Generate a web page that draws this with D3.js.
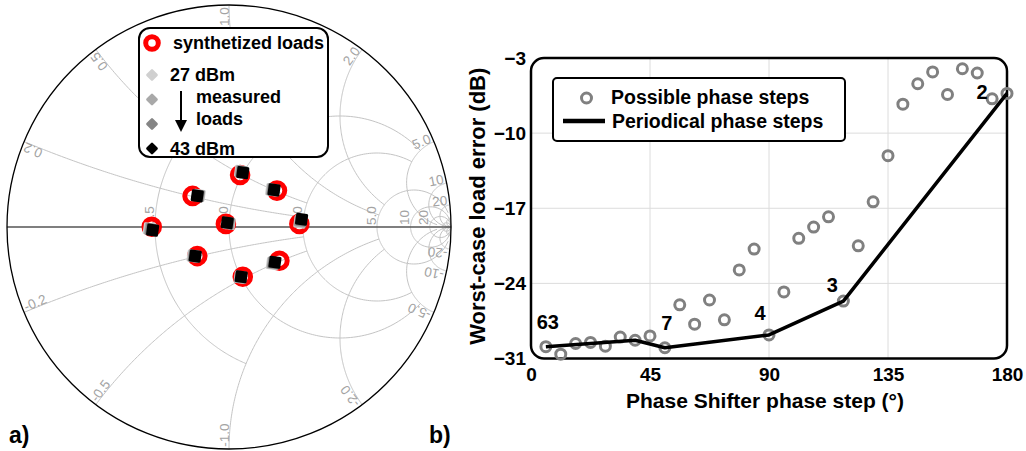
<!DOCTYPE html>
<html>
<head>
<meta charset="utf-8">
<script src="https://cdn.jsdelivr.net/npm/d3@7"></script>
<style>
  body { margin: 0; background: #fff; }
  svg { display: block; font-family: "Liberation Sans", Arial, sans-serif; }
</style>
</head>
<body>
<svg id="chart" width="1026" height="451"></svg>
<script>
// ---------- a) Smith chart data ----------
const resValues  = [0.5, 1, 2, 5, 10, 20, 50];
const resLimits  = [1, 5, 5, 30, 1e6, 1e6, 1e6];     // reactance where each circle stops
const resLabels  = ["0.5", "1.0", "2.0", "5.0", "10", "20", ""];
const reacValues = [0.2, 0.5, 1, 2, 5, 10, 20, 50];
const reacLimits = [2, 2, 5, 5, 30, 1e6, 1e6, 1e6];  // resistance where each arc stops
const reacLabels = ["0.2", "0.5", "1.0", "2.0", "5.0", "10", "20", ""];

// reflection coefficients (re, im)
const synthRe = [0.050, -0.164, 0.216, -0.348, -0.014, 0.317, -0.143, 0.227, 0.062];
const synthIm = [0.234, 0.140, 0.164, 0.001, 0.014, 0.014, -0.131, -0.152, -0.224];
const meas27Re = [0.052, -0.134, 0.192, -0.359, 0.001, 0.319, -0.162, 0.195, 0.050];
const meas27Im = [0.251, 0.143, 0.167, -0.008, 0.016, 0.022, -0.131, -0.165, -0.227];
const meas32Re = [0.055, -0.137, 0.196, -0.354, -0.002, 0.322, -0.158, 0.199, 0.052];
const meas32Im = [0.249, 0.142, 0.167, -0.010, 0.017, 0.026, -0.131, -0.163, -0.226];
const meas37Re = [0.059, -0.140, 0.200, -0.349, -0.005, 0.325, -0.155, 0.203, 0.054];
const meas37Im = [0.247, 0.141, 0.167, -0.012, 0.018, 0.031, -0.131, -0.161, -0.225];
const meas43Re = [0.062, -0.143, 0.203, -0.344, -0.008, 0.327, -0.152, 0.207, 0.055];
const meas43Im = [0.245, 0.140, 0.167, -0.014, 0.019, 0.035, -0.131, -0.159, -0.224];
const measColors = ["#d0d0d0", "#a9a9a9", "#858585", "#000000"];

// ---------- b) phase step data ----------
const phaseSteps = [5.625, 11.25, 16.875, 22.5, 28.125, 33.75, 39.375, 45, 50.625, 56.25,
  61.875, 67.5, 73.125, 78.75, 84.375, 90, 95.625, 101.25, 106.875, 112.5, 118.125, 123.75,
  129.375, 135, 140.625, 146.25, 151.875, 157.5, 163.125, 168.75, 174.375, 180];
const loadError = [-29.9, -30.6, -29.6, -29.5, -29.85, -29.0, -29.3, -28.9, -30.0, -26.0,
  -27.8, -25.55, -27.4, -22.75, -20.8, -28.8, -24.8, -19.8, -18.75, -17.8, -25.65, -20.5,
  -16.4, -12.1, -7.3, -5.4, -4.3, -6.4, -4.0, -4.4, -6.8, -6.3];
const periodicSteps = [5.625, 39.375, 50.625, 90, 118.125, 180];
const periodicError = [-29.9, -29.3, -30.0, -28.8, -25.65, -6.3];
const periodicNames = ["63", "", "7", "4", "3", "2"];
const xTicks = [0, 45, 90, 135, 180];
const yTicks = [-3, -10, -17, -24, -31];

const svg = d3.select("#chart");

// ================= a) Smith chart =================
const cx = 229, cy = 227, R = 222;
const sx = d3.scaleLinear().domain([-1, 1]).range([cx - R, cx + R]);
const sy = d3.scaleLinear().domain([-1, 1]).range([cy + R, cy - R]);

// z = r + jx  ->  gamma
function gamma(r, x) {
  const d = (r + 1) * (r + 1) + x * x;
  return [(r * r + x * x - 1) / d, (2 * x) / d];
}
const smithLine = d3.line().x(d => sx(d[0])).y(d => sy(d[1]));

const smith = svg.append("g");
const grid = smith.append("g")
  .attr("fill", "none")
  .attr("stroke", "#c4c4c4")
  .attr("stroke-width", 1);

resValues.forEach((r, i) => {
  const tMax = Math.atan(resLimits[i]);
  const pts = d3.range(-tMax, tMax + 1e-9, tMax / 150).map(t => gamma(r, Math.tan(t)));
  grid.append("path").attr("d", smithLine(pts));
});

reacValues.forEach((x, i) => {
  const tMax = Math.atan(reacLimits[i]);
  [1, -1].forEach(s => {
    const pts = d3.range(0, tMax + 1e-9, tMax / 150).map(t => gamma(Math.tan(t), s * x));
    grid.append("path").attr("d", smithLine(pts));
  });
});

// horizontal axis + outer circle
smith.append("line")
  .attr("x1", sx(-1)).attr("x2", sx(1))
  .attr("y1", sy(0)).attr("y2", sy(0))
  .attr("stroke", "#555").attr("stroke-width", 1.5);
smith.append("circle")
  .attr("cx", sx(0)).attr("cy", sy(0)).attr("r", sx(1) - sx(0))
  .attr("fill", "none").attr("stroke", "#000").attr("stroke-width", 1.3);

// grid labels
const gl = smith.append("g")
  .attr("fill", "#a3a3a3")
  .attr("font-size", 13.5);

resValues.forEach((r, i) => {
  if (!resLabels[i]) return;
  const g = gamma(r, 0);
  gl.append("text")
    .attr("transform", `translate(${sx(g[0]) - 1.5},${sy(0) - 2}) rotate(-90)`)
    .attr("text-anchor", "start")
    .text(resLabels[i]);
});

reacValues.forEach((x, i) => {
  if (!reacLabels[i]) return;
  [1, -1].forEach(s => {
    const g = gamma(0, s * x);
    const th = Math.atan2(g[1], g[0]);
    const px = sx(0.99 * g[0]), py = sy(0.99 * g[1]);
    const rot = s > 0 ? -th * 180 / Math.PI
                      : Math.atan2(Math.sin(th), -Math.cos(th)) * 180 / Math.PI;
    gl.append("text")
      .attr("transform", `translate(${px},${py}) rotate(${rot})`)
      .attr("text-anchor", s > 0 ? "end" : "start")
      .text((s > 0 ? "" : "-") + reacLabels[i]);
  });
});

// markers
const blob = d3.symbol().type(d3.symbolSquare).size(81);
smith.append("g").selectAll("circle")
  .data(synthRe)
  .join("circle")
  .attr("cx", d => sx(d))
  .attr("cy", (d, i) => sy(synthIm[i]))
  .attr("r", 7.8)
  .attr("fill", "none")
  .attr("stroke", "#ff0000")
  .attr("stroke-width", 5);

[[meas27Re, meas27Im], [meas32Re, meas32Im], [meas37Re, meas37Im], [meas43Re, meas43Im]]
  .forEach(([re, im], k) => {
    smith.append("g").selectAll("path")
      .data(re)
      .join("path")
      .attr("d", blob)
      .attr("transform", (d, i) => `translate(${sx(d)},${sy(im[i])}) rotate(8)`)
      .attr("fill", measColors[k])
      .attr("stroke", measColors[k])
      .attr("stroke-width", 3)
      .attr("stroke-linejoin", "round");
  });

// legend of a)
const lg = smith.append("g").attr("font-weight", "bold").attr("font-size", 18);
lg.append("rect")
  .attr("x", 139).attr("y", 28).attr("width", 189).attr("height", 129)
  .attr("rx", 11)
  .attr("fill", "#fff").attr("stroke", "#000").attr("stroke-width", 2);
lg.append("circle")
  .attr("cx", 152).attr("cy", 43).attr("r", 6.3)
  .attr("fill", "#fff").attr("stroke", "#ff0000").attr("stroke-width", 5);
lg.append("text").attr("x", 173).attr("y", 49).text("synthetized loads");
[75, 99.5, 124, 148.5].forEach((y, k) => {
  lg.append("path")
    .attr("d", d3.symbol().type(d3.symbolSquare).size(42))
    .attr("transform", `translate(152,${y}) rotate(45)`)
    .attr("fill", measColors[k]).attr("stroke", measColors[k])
    .attr("stroke-width", 2.5).attr("stroke-linejoin", "round");
});
lg.append("text").attr("x", 170).attr("y", 81).text("27 dBm");
lg.append("text").attr("x", 196).attr("y", 103).text("measured");
lg.append("text").attr("x", 196).attr("y", 125).text("loads");
lg.append("text").attr("x", 170).attr("y", 155).text("43 dBm");
lg.append("line")
  .attr("x1", 181).attr("x2", 181).attr("y1", 91).attr("y2", 122)
  .attr("stroke", "#000").attr("stroke-width", 2);
lg.append("path")
  .attr("d", "M175,120 L187,120 L181,132 Z")
  .attr("fill", "#000");

svg.append("text").attr("x", 9).attr("y", 443)
  .attr("font-weight", "bold").attr("font-size", 23).text("a)");
svg.append("text").attr("x", 429).attr("y", 443)
  .attr("font-weight", "bold").attr("font-size", 23).text("b)");

// ================= b) load error vs phase step =================
const x = d3.scaleLinear().domain([0, 180]).range([531, 1007]);
const y = d3.scaleLinear().domain([-31, -3]).range([358.5, 58]);

const plot = svg.append("g");

plot.append("g")
  .attr("stroke", "#dcdcdc").attr("stroke-width", 1)
  .call(g => {
    g.selectAll("line.v").data(xTicks.slice(1, -1)).join("line")
      .attr("x1", d => x(d)).attr("x2", d => x(d))
      .attr("y1", y(-3)).attr("y2", y(-31));
    g.selectAll("line.h").data(yTicks.slice(1, -1)).join("line")
      .attr("class", "h")
      .attr("x1", x(0)).attr("x2", x(180))
      .attr("y1", d => y(d)).attr("y2", d => y(d));
  });

plot.append("rect")
  .attr("x", x(0)).attr("y", y(-3))
  .attr("width", x(180) - x(0)).attr("height", y(-31) - y(-3))
  .attr("rx", 13)
  .attr("fill", "none").attr("stroke", "#000").attr("stroke-width", 2.5);

// axes
const xAxis = plot.append("g")
  .attr("transform", `translate(0,${y(-31)})`)
  .call(d3.axisBottom(x).tickValues(xTicks).tickSize(0).tickPadding(9));
const yAxis = plot.append("g")
  .attr("transform", `translate(${x(0)},0)`)
  .call(d3.axisLeft(y).tickValues(yTicks).tickSize(0).tickPadding(5));
[xAxis, yAxis].forEach(a => {
  a.select(".domain").remove();
  a.selectAll("text")
    .attr("font-family", "Liberation Sans, Arial, sans-serif")
    .attr("font-size", 19)
    .attr("font-weight", "bold")
    .attr("fill", "#000");
});

plot.append("text")
  .attr("x", (x(0) + x(180)) / 2 - 4).attr("y", 408)
  .attr("text-anchor", "middle")
  .attr("font-weight", "bold").attr("font-size", 21)
  .text("Phase Shifter phase step (°)");
plot.append("text")
  .attr("transform", `translate(485,${(y(-3) + y(-31)) / 2 - 2}) rotate(-90)`)
  .attr("text-anchor", "middle")
  .attr("font-weight", "bold").attr("font-size", 22)
  .text("Worst-case load error (dB)");

// possible steps
plot.append("g").selectAll("circle")
  .data(phaseSteps)
  .join("circle")
  .attr("cx", d => x(d))
  .attr("cy", (d, i) => y(loadError[i]))
  .attr("r", 5)
  .attr("fill", "none")
  .attr("stroke", "#808080")
  .attr("stroke-width", 3);

// periodical steps
const line = d3.line().x((d, i) => x(d)).y((d, i) => y(periodicError[i]));
plot.append("path")
  .datum(periodicSteps)
  .attr("d", line)
  .attr("fill", "none")
  .attr("stroke", "#000")
  .attr("stroke-width", 3.5)
  .attr("stroke-linejoin", "round");

const nameOffsets = [[2, -18], [0, 0], [2, -18], [-9, -15], [-11, -9], [-25, 6]];
plot.append("g").selectAll("text")
  .data(periodicSteps)
  .join("text")
  .attr("x", (d, i) => x(d) + nameOffsets[i][0])
  .attr("y", (d, i) => y(periodicError[i]) + nameOffsets[i][1])
  .attr("text-anchor", "middle")
  .attr("font-weight", "bold").attr("font-size", 20)
  .text((d, i) => periodicNames[i]);

// legend of b)
const lg2 = plot.append("g").attr("font-weight", "bold").attr("font-size", 19.5);
lg2.append("rect")
  .attr("x", 553).attr("y", 78).attr("width", 292).attr("height", 63)
  .attr("rx", 4)
  .attr("fill", "#fff").attr("stroke", "#000").attr("stroke-width", 2);
lg2.append("circle")
  .attr("cx", 586.5).attr("cy", 98).attr("r", 5)
  .attr("fill", "none").attr("stroke", "#808080").attr("stroke-width", 3);
lg2.append("text").attr("x", 611).attr("y", 104).text("Possible phase steps");
lg2.append("line")
  .attr("x1", 563).attr("x2", 605).attr("y1", 121).attr("y2", 121)
  .attr("stroke", "#000").attr("stroke-width", 4.5);
lg2.append("text").attr("x", 612).attr("y", 128).text("Periodical phase steps");
</script>
</body>
</html>
